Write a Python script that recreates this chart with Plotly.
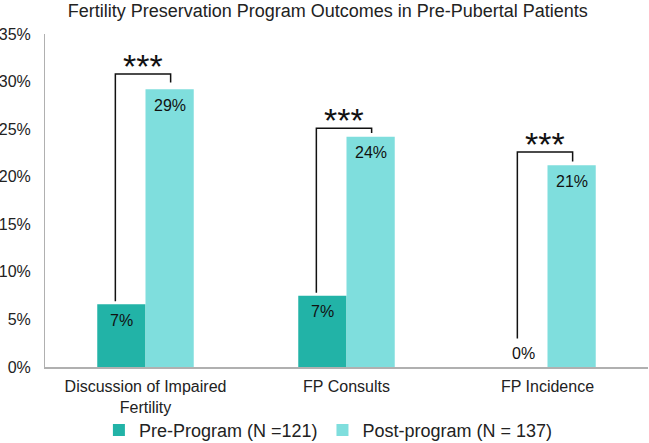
import plotly.graph_objects as go

categories = ["Discussion of Impaired<br>Fertility", "FP Consults", "FP Incidence"]
pre_values = [6.6, 7.5, 0.0]
post_values = [29.2, 24.2, 21.2]
pre_labels = ["7%", "7%", "0%"]
post_labels = ["29%", "24%", "21%"]
series_names = ["Pre-Program (N =121)", "Post-program (N = 137)"]
tick_vals = [0, 5, 10, 15, 20, 25, 30, 35]
tick_text = ["0%", "5%", "10%", "15%", "20%", "25%", "30%", "35%"]
# significance brackets: (left bottom, top, right bottom) in %
bracket_left_bottom = [6.9, 7.8, 3.0]
bracket_top = [30.8, 25.1, 22.6]
bracket_right_bottom = [29.9, 24.6, 21.6]
sig_text = ["***", "***", "***"]

PRE_COLOR = "#22B3A7"
POST_COLOR = "#7FDEDD"
FONT = "Liberation Sans, Arial, sans-serif"

idx = list(range(len(categories)))

fig = go.Figure()
fig.add_trace(go.Bar(x=idx, y=pre_values, name=series_names[0],
                     marker=dict(color=PRE_COLOR, line=dict(width=0))))
fig.add_trace(go.Bar(x=idx, y=post_values, name=series_names[1],
                     marker=dict(color=POST_COLOR, line=dict(width=0))))

annotations = []
off = 0.12
for i in idx:
    annotations.append(dict(x=i - off, y=pre_values[i], xref="x", yref="y",
                            text=pre_labels[i], showarrow=False,
                            yshift=-16 if pre_values[i] > 0 else 14,
                            font=dict(size=16, color="#111", family=FONT)))
    annotations.append(dict(x=i + off, y=post_values[i], xref="x", yref="y",
                            text=post_labels[i], showarrow=False, yshift=-16,
                            font=dict(size=16, color="#111", family=FONT)))
    annotations.append(dict(x=i - 0.01, y=bracket_top[i], xref="x", yref="y",
                            text=sig_text[i], showarrow=False, yshift=8,
                            font=dict(size=34, color="#111", family=FONT)))

shapes = []
for i in idx:
    xl = i - 0.15
    xr = i + 0.125
    shapes.append(dict(type="path", xref="x", yref="y",
                       path=f"M {xl},{bracket_left_bottom[i]} L {xl},{bracket_top[i]} L {xr},{bracket_top[i]} L {xr},{bracket_right_bottom[i]}",
                       line=dict(color="#111", width=1.5)))

fig.update_layout(
    width=649, height=443,
    margin=dict(l=45, r=1, t=34, b=76, autoexpand=False),
    paper_bgcolor="white", plot_bgcolor="white",
    barmode="group", bargap=0.52, bargroupgap=0,
    font=dict(family=FONT, color="#222"),
    title=dict(text="Fertility Preservation Program Outcomes in Pre-Pubertal Patients",
               x=0.505, xanchor="center", y=0.976, yanchor="middle",
               font=dict(size=18, color="#222", family=FONT)),
    xaxis=dict(tickmode="array", tickvals=idx, ticktext=categories,
               range=[-0.5, 2.5], showline=True, linecolor="#b0b0b0", linewidth=1.5,
               ticks="", tickfont=dict(size=16, color="#222"), showgrid=False,
               automargin=False, ticklabelstandoff=4),
    yaxis=dict(range=[0, 35], tickmode="array", tickvals=tick_vals, ticktext=tick_text,
               showline=True, linecolor="#b0b0b0", linewidth=1, showgrid=False,
               zeroline=False, ticks="", tickfont=dict(size=16, color="#222"),
               automargin=False, ticklabelstandoff=10),
    legend=dict(orientation="h", x=0.47, xanchor="center", y=-0.19, yanchor="middle",
                bgcolor="rgba(0,0,0,0)",
                font=dict(size=18, color="#222", family=FONT), itemwidth=30),
    annotations=annotations, shapes=shapes,
)

fig.write_html("out.html", config={"displayModeBar": False},
               post_script="document.body.style.margin='0';document.body.style.overflow='hidden';")
